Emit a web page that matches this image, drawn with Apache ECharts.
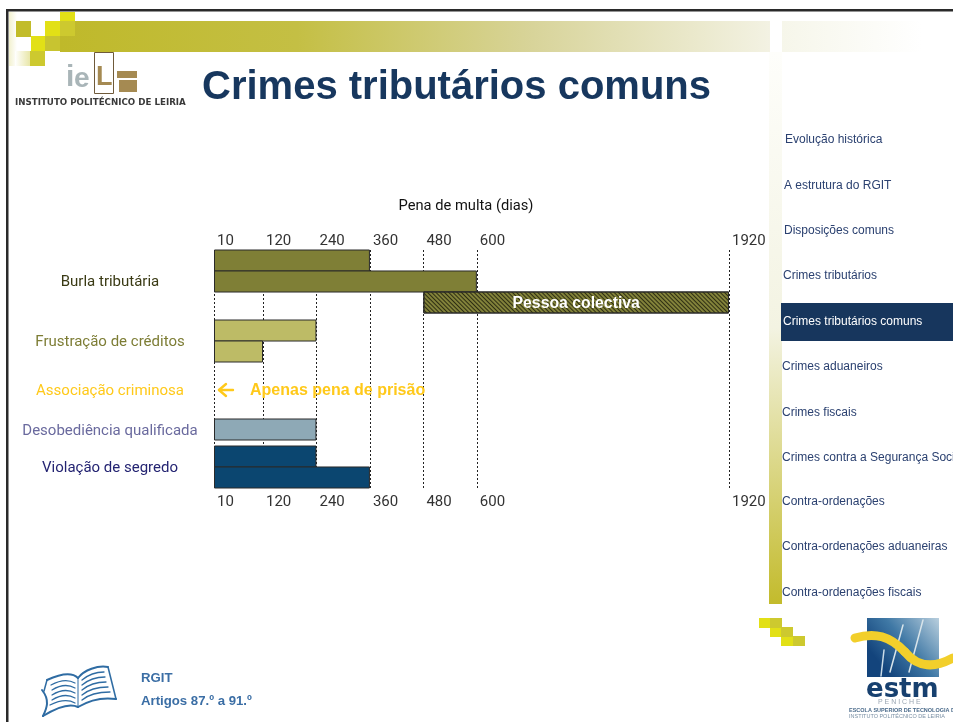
<!DOCTYPE html>
<html>
<head>
<meta charset="utf-8">
<title>Crimes tributários comuns</title>
<script src="https://cdn.jsdelivr.net/npm/echarts@6/dist/echarts.min.js"></script>
<style>
html, body { margin: 0; padding: 0; background: #fff; }
#main { width: 953px; height: 722px; }
</style>
</head>
<body>
<div id="main"></div>
<script>
// eixo em dias
const tickDays = [10, 120, 240, 360, 480, 600, 1920]

// cada grupo: inicio e fim de cada barra, de cima para baixo
const burlaFrom = [10, 10, 480]
const burlaTo = [360, 600, 1920]
const frustracaoFrom = [10, 10]
const frustracaoTo = [240, 120]
const desobedienciaFrom = [10]
const desobedienciaTo = [240]
const violacaoFrom = [10, 10]
const violacaoTo = [240, 360]

const hatchedLabel = 'Pessoa colectiva'
const noFineNote = 'Apenas pena de prisão'
const axisTitle = 'Pena de multa (dias)'
const slideTitle = 'Crimes tributários comuns'
const crimeNames = ['Burla tributária', 'Frustração de créditos', 'Associação criminosa', 'Desobediência qualificada', 'Violação de segredo']
const menuItems = ['Evolução histórica', 'A estrutura do RGIT', 'Disposições comuns', 'Crimes tributários', 'Crimes tributários comuns', 'Crimes aduaneiros', 'Crimes fiscais', 'Crimes contra a Segurança Social', 'Contra-ordenações', 'Contra-ordenações aduaneiras', 'Contra-ordenações fiscais']
const activeMenu = 4

const NARROW = 'Roboto, "Liberation Sans", sans-serif'
const ARIAL = '"Liberation Sans", Arial, sans-serif'
const left = 214
const width = 515

// eixo partido: 600 a 1920 ocupa menos espaco
function daysAxis (gridIndex, extra) {
  return Object.assign({
    type: 'value',
    gridIndex: gridIndex,
    min: 10,
    max: 1920,
    breaks: [{ start: 800, end: 1554, gap: 0 }],
    breakArea: { show: false },
    show: false
  }, extra)
}

function rowAxis (gridIndex, rows) {
  return { type: 'category', gridIndex: gridIndex, inverse: true, show: false, data: rows }
}

function tickAxis (position) {
  return daysAxis(0, {
    show: true,
    position: position,
    axisLine: { show: false },
    axisTick: { show: false, customValues: tickDays },
    axisLabel: {
      show: true,
      customValues: tickDays,
      formatter: v => String(v),
      align: 'left',
      padding: [0, 0, 0, 3],
      margin: position === 'top' ? 1 : 7,
      fontFamily: NARROW,
      fontSize: 15,
      color: '#333'
    },
    splitLine: {
      show: position === 'top',
      lineStyle: { color: '#222', type: [2, 2], width: 1 }
    }
  })
}

function barPair (gridIndex, axisIndex, from, to, color, hatchIndex) {
  return [
    {
      type: 'bar',
      stack: 'g' + gridIndex,
      xAxisIndex: axisIndex,
      yAxisIndex: gridIndex,
      barWidth: '105%',
      silent: true,
      itemStyle: { color: 'transparent' },
      data: from
    },
    {
      type: 'bar',
      stack: 'g' + gridIndex,
      xAxisIndex: axisIndex,
      yAxisIndex: gridIndex,
      barWidth: '105%',
      itemStyle: { color: color, borderColor: '#2a2a2a', borderWidth: 1 },
      data: to.map((v, i) => {
        if (i !== hatchIndex) return v - from[i]
        return {
          value: v - from[i],
          itemStyle: {
            color: '#82823a',
            decal: { symbol: 'rect', color: '#2e2e12', dashArrayX: [1, 0], dashArrayY: [1, 2], rotation: Math.PI / 4 }
          },
          label: {
            show: true,
            position: 'inside',
            offset: [0, 1],
            formatter: hatchedLabel,
            color: '#fff',
            fontFamily: ARIAL,
            fontWeight: 'bold',
            fontSize: 15.8
          }
        }
      })
    }
  ]
}

// --- desenho do slide, fora do grafico ---
function txt (text, x, y, font, fill, extra) {
  return { type: 'text', z: 10, style: Object.assign({ text: text, x: x, y: y, font: font, fill: fill, textVerticalAlign: 'middle' }, extra) }
}
function box (x, y, w, h, fill, z) {
  return { type: 'rect', z: z || 1, shape: { x: x, y: y, width: w, height: h }, style: { fill: fill } }
}
function hGrad (stops) {
  return new echarts.graphic.LinearGradient(0, 0, 1, 0, stops.map((c, i) => ({ offset: i / (stops.length - 1), color: c })))
}
function vGrad (stops) {
  return new echarts.graphic.LinearGradient(0, 0, 0, 1, stops.map((c, i) => ({ offset: i / (stops.length - 1), color: c })))
}
function curve (p, color, w, z) {
  return {
    type: 'bezierCurve',
    z: z || 10,
    shape: { x1: p[0], y1: p[1], cpx1: p[2], cpy1: p[3], cpx2: p[4], cpy2: p[5], x2: p[6], y2: p[7] },
    style: { fill: null, stroke: color, lineWidth: w, lineCap: 'round' }
  }
}
function poly (points, color, w, z) {
  return { type: 'polyline', z: z || 10, shape: { points: points }, style: { fill: null, stroke: color, lineWidth: w, lineCap: 'round', lineJoin: 'round' } }
}

const menuY = [140, 186, 231, 276, 322, 367, 413, 458, 502, 547, 593]
const menuX = [785, 784, 784, 783, 783, 782, 782, 782, 782, 782, 782]
const crimeY = [282, 342, 391, 431, 468]
const crimeColors = ['#3a3a14', '#7d7d35', '#ffc91a', '#6a6a9e', '#242472']
const BRIGHT = '#e2e016'
const OLIVE = '#cdc92f'
const BOOK = '#2f6ca3'
const BROWN = '#a58a52'

const graphics = [
  // moldura
  box(6, 9, 947, 2.5, '#2a2a2a'),
  box(6, 9, 2.5, 713, '#2a2a2a'),
  // faixas
  box(60, 21, 710, 31, hGrad(['#bfb92a', '#c4bf44', '#d8d49a', '#f3f2e3'])),
  box(782, 21, 140, 31, hGrad(['#f6f6ea', '#ffffff'])),
  box(769, 52, 13, 552, vGrad(['#fefefb', '#f3f3e2', '#c3bb2c'])),
  box(9, 12, 8, 54, hGrad(['#f2f1cf', '#ffffff'])),
  box(15, 51, 15, 15, hGrad(['#ffffff', '#e8e6a8'])),
  box(16, 21, 15, 16, '#c2bc2a', 2),
  box(45, 21, 15, 15, BRIGHT, 2),
  box(60, 12, 15, 9, BRIGHT, 2),
  box(60, 21, 15, 15, OLIVE, 2),
  box(31, 36, 14, 15, BRIGHT, 2),
  box(45, 36, 15, 15, '#c8c430', 2),
  box(30, 51, 15, 15, OLIVE, 2),
  box(759, 618, 11, 10, BRIGHT, 2),
  box(770, 618, 12, 10, OLIVE, 2),
  box(770, 628, 11, 9, BRIGHT, 2),
  box(781, 627, 12, 10, OLIVE, 2),
  box(781, 637, 12, 9, BRIGHT, 2),
  box(793, 636, 12, 10, OLIVE, 2),
  // menu activo
  box(781, 303, 172, 38, '#17365d', 2),
  // logo IPL
  txt('i', 66, 78, 'bold 30px ' + ARIAL, '#a9b5b8'),
  txt('e', 74, 79, 'bold 28px ' + ARIAL, '#a9b5b8'),
  { type: 'rect', z: 10, shape: { x: 94.5, y: 52.5, width: 19, height: 41 }, style: { fill: '#fff', stroke: '#6f5a3a', lineWidth: 1 } },
  txt('L', 96, 78, 'bold 27px ' + ARIAL, BROWN),
  box(117, 71, 20, 7, BROWN, 10),
  box(119, 80, 18, 12, BROWN, 10),
  txt('INSTITUTO POLITÉCNICO DE LEIRIA', 15, 102.5, 'bold 8.7px "DejaVu Sans"', '#3a3a3a'),
  // livro
  curve([47, 680, 60, 674, 72, 672, 78, 678], BOOK, 2),
  curve([78, 678, 84, 670, 98, 665, 108, 667], BOOK, 2),
  curve([42, 690, 50, 700, 47, 708, 43, 716], BOOK, 2),
  curve([43, 716, 56, 708, 70, 703, 78, 707], BOOK, 2),
  curve([78, 707, 88, 701, 102, 697, 116, 699], BOOK, 2),
  poly([[47, 680], [44, 691]], BOOK, 1.5),
  poly([[108, 667], [116, 699]], BOOK, 1.5),
  poly([[78, 678], [78, 707]], BOOK, 1),
  curve([51, 685, 60, 680, 68, 679, 75, 683], BOOK, 1.3),
  curve([52, 690, 60, 685, 68, 684, 75, 688], BOOK, 1.3),
  curve([52, 695, 60, 690, 68, 689, 75, 693], BOOK, 1.3),
  curve([52, 700, 60, 695, 68, 694, 75, 698], BOOK, 1.3),
  curve([50, 705, 60, 700, 68, 699, 75, 703], BOOK, 1.3),
  curve([82, 680, 88, 675, 96, 672, 104, 672], BOOK, 1.3),
  curve([82, 685, 88, 680, 97, 677, 105, 677], BOOK, 1.3),
  curve([82, 690, 88, 685, 97, 682, 106, 682], BOOK, 1.3),
  curve([82, 695, 88, 690, 98, 687, 108, 687], BOOK, 1.3),
  curve([82, 700, 88, 695, 98, 692, 110, 692], BOOK, 1.3),
  txt('RGIT', 141, 678, 'bold 13.2px ' + ARIAL, '#3b6ea5'),
  txt('Artigos 87.º a 91.º', 141, 701, 'bold 13.2px ' + ARIAL, '#3b6ea5'),
  // logo ESTM
  box(867, 618, 72, 59, new echarts.graphic.LinearGradient(1, 0, 0, 1, [
    { offset: 0, color: '#b9cfde' },
    { offset: 0.45, color: '#3f78a5' },
    { offset: 0.8, color: '#13447c' },
    { offset: 1, color: '#13447c' }
  ]), 3),
  poly([[884, 650], [881, 676]], '#c9dbe8', 1.5, 4),
  poly([[903, 625], [890, 672]], '#d8e4ea', 1.5, 4),
  poly([[923, 620], [909, 672]], '#d8e4ea', 1.5, 4),
  curve([855, 638, 875, 632, 890, 636, 905, 652], '#f2cf2b', 9, 5),
  curve([905, 652, 918, 668, 935, 668, 953, 658], '#f2cf2b', 9, 5),
  txt('estm', 866, 690, 'bold 26px "DejaVu Sans"', '#17406f', { textAlign: 'left' }),
  txt('P E N I C H E', 878, 702, '7px ' + ARIAL, '#9aa6b2'),
  txt('ESCOLA SUPERIOR DE TECNOLOGIA DO MAR', 849, 710, 'bold 5.5px ' + ARIAL, '#4a6a8a'),
  txt('INSTITUTO POLITÉCNICO DE LEIRIA', 849, 716, '5.5px ' + ARIAL, '#7a90a4'),
  // nota: so pena de prisao
  poly([[219, 390], [233, 390]], '#ffc91a', 2.4),
  poly([[226, 384], [219, 390], [226, 396]], '#ffc91a', 2.4),
  txt(noFineNote, 250, 391, 'bold 16px ' + ARIAL, '#ffc91a')
]

menuItems.forEach((item, i) => {
  graphics.push(txt(item, menuX[i], menuY[i], '12px ' + ARIAL, i === activeMenu ? '#fff' : '#2b4170'))
})
crimeNames.forEach((item, i) => {
  graphics.push(txt(item, 110, crimeY[i], '15px ' + NARROW, crimeColors[i], { textAlign: 'center' }))
})

const option = {
  animation: false,
  backgroundColor: '#fff',
  title: [
    { text: slideTitle, left: 197, top: 63, textStyle: { fontFamily: ARIAL, fontWeight: 'bold', fontSize: 40, color: '#17375e' } },
    { text: axisTitle, left: 461, top: 194, textAlign: 'center', textStyle: { fontFamily: NARROW, fontWeight: 'normal', fontSize: 14.7, color: '#111' } }
  ],
  grid: [
    { left: left, width: width, top: 250, height: 238 },
    { left: left, width: width, top: 250, height: 63 },
    { left: left, width: width, top: 320, height: 42 },
    { left: left, width: width, top: 419, height: 21 },
    { left: left, width: width, top: 446, height: 42 }
  ],
  xAxis: [
    tickAxis('top'),
    tickAxis('bottom'),
    daysAxis(1),
    daysAxis(2),
    daysAxis(3),
    daysAxis(4)
  ],
  yAxis: [
    { type: 'category', gridIndex: 0, show: false, data: [''] },
    rowAxis(1, ['a', 'b', 'c']),
    rowAxis(2, ['a', 'b']),
    rowAxis(3, ['a']),
    rowAxis(4, ['a', 'b'])
  ],
  series: [].concat(
    barPair(1, 2, burlaFrom, burlaTo, '#7f7f36', 2),
    barPair(2, 3, frustracaoFrom, frustracaoTo, '#bdbb66', -1),
    barPair(3, 4, desobedienciaFrom, desobedienciaTo, '#8ea9b6', -1),
    barPair(4, 5, violacaoFrom, violacaoTo, '#0b4670', -1)
  ),
  graphic: graphics
}

const chart = echarts.init(document.getElementById('main'), null, { renderer: 'canvas' })
chart.setOption(option)
</script>
</body>
</html>
